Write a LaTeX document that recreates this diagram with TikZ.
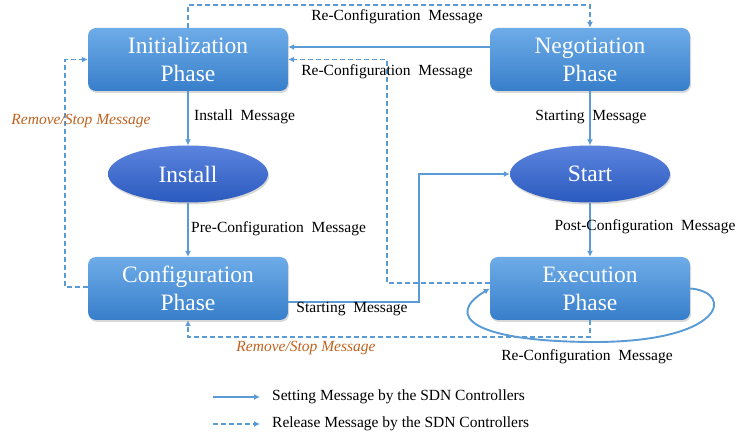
\documentclass[tikz,border=0pt]{standalone}
\usepackage{fontspec}
\setmainfont{Liberation Serif}
\usetikzlibrary{arrows.meta,shadows,shapes.geometric}
\definecolor{boxtop}{RGB}{110,172,232}
\definecolor{boxbot}{RGB}{55,126,202}
\definecolor{elltop}{RGB}{92,132,222}
\definecolor{ellbot}{RGB}{42,90,190}
\definecolor{ln}{RGB}{91,155,213}
\definecolor{orng}{RGB}{192,98,30}
\begin{document}
\begin{tikzpicture}[x=1pt,y=-1pt,
  phase/.style={rounded corners=8pt, minimum width=200pt, minimum height=63pt,
    top color=boxtop, bottom color=boxbot, text=white, align=center,
    font=\fontsize{23.5}{28}\selectfont,
    drop shadow={opacity=0.3,shadow xshift=1pt,shadow yshift=-2pt}},
  state/.style={ellipse, minimum width=160pt, minimum height=57pt,
    top color=elltop, bottom color=ellbot, text=white,
    font=\fontsize{23.5}{28}\selectfont,
    drop shadow={opacity=0.3,shadow xshift=1pt,shadow yshift=-2pt}},
  setmsg/.style={draw=ln, line width=1.9pt, -{Latex[length=6pt,width=6pt]}},
  relmsg/.style={setmsg, dash pattern=on 5pt off 3pt},
  lbl/.style={font=\fontsize{15.5}{17}\selectfont, text=black, inner sep=1pt},
  rlbl/.style={font=\fontsize{15.5}{17}\selectfont\itshape, text=orng, inner sep=1pt}
]
\useasboundingbox[fill=white] (0,0) rectangle (750,443);

\node[phase] (init) at (188,59.5) {Initialization\\Phase};
\node[phase] (nego) at (590,59.5) {Negotiation\\Phase};
\node[state] (inst) at (188,174) {Install};
\node[state] (strt) at (590,174) {Start};
\node[phase] (conf) at (188,288.5) {Configuration\\Phase};
\node[phase] (exec) at (590,288.5) {Execution\\Phase};

% vertical setting messages
\draw[setmsg] (init) -- (inst);
\node[lbl, anchor=west] (l1) at (193,117) {Install\ \ Message};
\draw[setmsg] (inst) -- (conf);
\node[lbl, anchor=west] (l2) at (190,229) {Pre-Configuration\ \ Message};
\draw[setmsg] (nego) -- (strt);
\node[lbl] (l3) at (591,117) {Starting\ \ Message};
\draw[setmsg] (strt) -- (exec);
\node[lbl] (l4) at (645,227) {Post-Configuration\ \ Message};

% negotiation -> initialization
\draw[setmsg] ([yshift=12.5pt]nego.west) -- ([yshift=12.5pt]init.east);

% top dashed re-configuration
\draw[relmsg] (init.north) -- ++(0,-23) -| (nego.north);
\node[lbl] (l5) at (397,17) {Re-Configuration\ \ Message};

% execution -> initialization dashed
\coordinate (rc) at (387,59.5);
\draw[relmsg] ([yshift=5.5pt]exec.west) -| (rc) -- (init.east);
\node[lbl] (l6) at (387,72) {Re-Configuration\ \ Message};

% configuration -> start
\coordinate (sc) at (419,174);
\draw[setmsg] ([yshift=-13.5pt]conf.east) -| (sc) -- (strt.west);
\node[lbl] (l7) at (352,309) {Starting\ \ Message};

% configuration -> initialization dashed
\coordinate (lc) at (65,59.5);
\draw[relmsg] ([yshift=1.5pt]conf.west) -| (lc) -- (init.west);
\node[rlbl] (l8) at (81,121) {Remove/Stop Message};

% execution -> configuration dashed
\draw[relmsg] (exec.south) -- ++(0,17) -| (conf.south);
\node[rlbl] (l9) at (306,348) {Remove/Stop Message};

% self loop
\draw[setmsg] (exec.east) .. controls (735,292) and (725,343) .. (590,342)
  .. controls (470,341) and (445,315) .. (exec.west);
\node[lbl] (l10) at (587,357) {Re-Configuration\ \ Message};

% legend
\coordinate (g1a) at (213,397);
\coordinate (g1b) at (260,397);
\draw[setmsg, line width=1.4pt] (g1a) -- (g1b);
\node[lbl, anchor=west] (g1) at (271,397) {Setting Message by the SDN Controllers};
\coordinate (g2a) at (213,424);
\coordinate (g2b) at (260,424);
\draw[relmsg, line width=1.4pt] (g2a) -- (g2b);
\node[lbl, anchor=west] (g2) at (271,424) {Release Message by the SDN Controllers};
\end{tikzpicture}
\end{document}
